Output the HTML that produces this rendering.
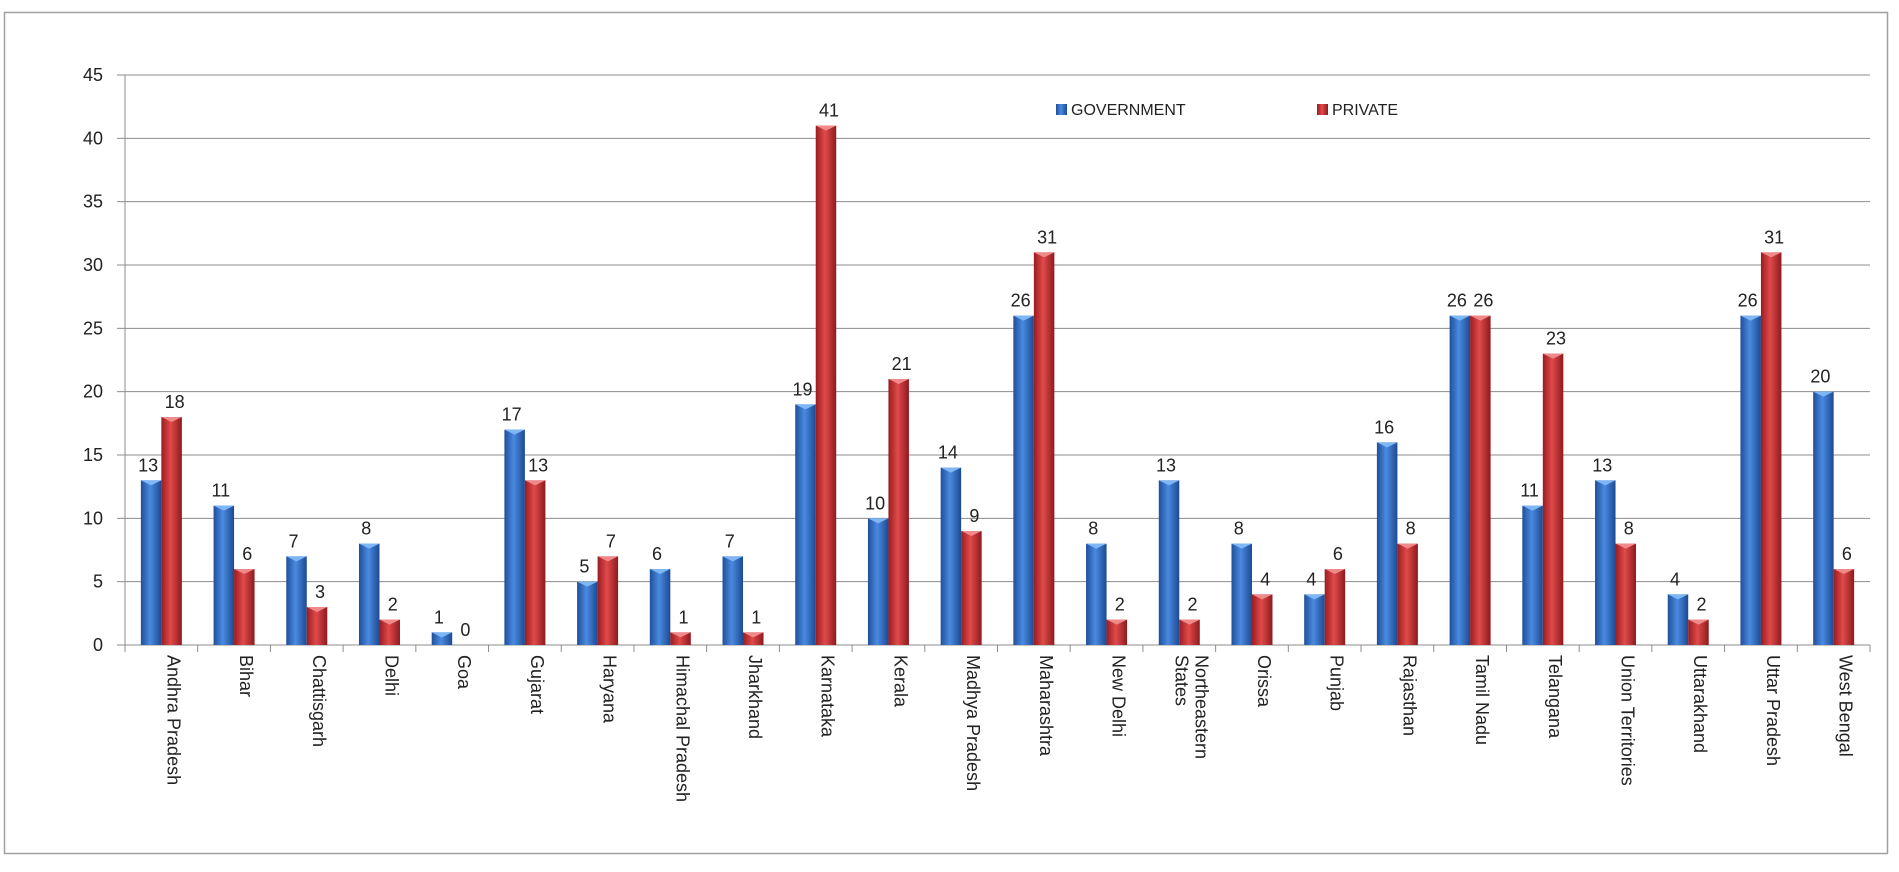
<!DOCTYPE html>
<html><head><meta charset="utf-8"><style>
html,body{margin:0;padding:0;background:#fff;}
svg text{font-family:"Liberation Sans",sans-serif;}
</style></head><body>
<svg width="1899" height="867" xmlns="http://www.w3.org/2000/svg">
<defs>
<linearGradient id="gb" x1="0" x2="1" y1="0" y2="0">
<stop offset="0" stop-color="#1f4f9a"/><stop offset="0.45" stop-color="#4a8ae0"/><stop offset="1" stop-color="#1c4a92"/></linearGradient>
<linearGradient id="gr" x1="0" x2="1" y1="0" y2="0">
<stop offset="0" stop-color="#9a1c20"/><stop offset="0.45" stop-color="#e04a4a"/><stop offset="1" stop-color="#8e1a1e"/></linearGradient>
</defs>
<rect x="4.5" y="12.5" width="1883" height="841" fill="#fff" stroke="#a0a0a0" stroke-width="1.5"/>
<g id="c"></g>
</svg>
<script>
const g=document.getElementById('c');
const NS='http://www.w3.org/2000/svg';
function el(t,a,txt){const e=document.createElementNS(NS,t);for(const k in a)e.setAttribute(k,a[k]);if(txt!==undefined)e.textContent=txt;g.appendChild(e);return e;}
const x0=125,x1=1870,y0=645,y45=75,u=(y0-y45)/45;
for(let v=0;v<=45;v+=5){const y=y0-v*u;
 if(v>0)el('line',{x1:x0,x2:x1,y1:y,y2:y,stroke:'#8c8c8c','stroke-width':1});
 el('line',{x1:x0-8,x2:x0,y1:y,y2:y,stroke:'#8c8c8c'});
 el('text',{x:x0-22,y:y+6,'text-anchor':'end','font-size':18,fill:'#222'},v);}
el('line',{x1:x0,x2:x0,y1:y45,y2:y0+7,stroke:'#8c8c8c'});
el('line',{x1:x0,x2:x1,y1:y0,y2:y0,stroke:'#8c8c8c'});
const names=["Andhra Pradesh","Bihar","Chattisgarh","Delhi","Goa","Gujarat","Haryana","Himachal Pradesh","Jharkhand","Karnataka","Kerala","Madhya Pradesh","Maharashtra","New Delhi","Northeastern|States","Orissa","Punjab","Rajasthan","Tamil Nadu","Telangana","Union Territories","Uttarakhand","Uttar Pradesh","West Bengal"];
const gov=[13,11,7,8,1,17,5,6,7,19,10,14,26,8,13,8,4,16,26,11,13,4,26,20];
const pri=[18,6,3,2,0,13,7,1,1,41,21,9,31,2,2,4,6,8,26,23,8,2,31,6];
const w=(x1-x0)/24,bw=20.5;
for(let i=0;i<24;i++){
 const tx=x0+w*(i+1);el('line',{x1:tx,x2:tx,y1:y0,y2:y0+7,stroke:'#8c8c8c'});
 const c=x0+w*(i+0.5);
 [[gov[i],c-bw,'url(#gb)','#7fb6f5'],[pri[i],c,'url(#gr)','#f08a8a']].forEach(([v,x,f,cap],k)=>{
  const h=v*u;
  if(v>0){el('rect',{x:x,y:y0-h,width:bw,height:h,fill:f});
   el('polygon',{points:`${x},${y0-h} ${x+bw},${y0-h} ${x+bw/2},${y0-h+5}`,fill:cap});}
  el('text',{x:x+bw/2-(k==0?3:-3),y:y0-h-9,'text-anchor':'middle','font-size':18,fill:'#222'},v);
 });
 const lines=names[i].split('|');
 lines.forEach((s,j)=>{
  const lx=c+6+(lines.length-1)*10-j*20;
  el('text',{x:0,y:0,transform:`translate(${lx},655) rotate(90)`,'font-size':18,fill:'#222','font-family':'"Liberation Sans Narrow","Liberation Sans",sans-serif'},s);
 });
}
el('rect',{x:1056,y:104,width:11,height:11,fill:'url(#gb)'});
el('text',{x:1071,y:115,'font-size':16,fill:'#222'},'GOVERNMENT');
el('rect',{x:1317,y:104,width:11,height:11,fill:'url(#gr)'});
el('text',{x:1332,y:115,'font-size':16,fill:'#222'},'PRIVATE');
</script>
</body></html>
